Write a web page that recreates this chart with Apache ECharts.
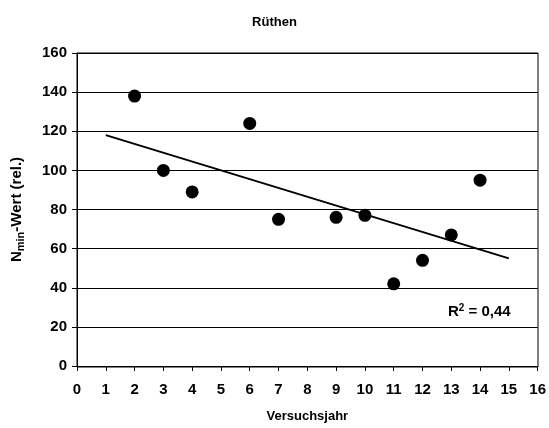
<!DOCTYPE html>
<html>
<head>
<meta charset="utf-8">
<script src="https://cdn.jsdelivr.net/npm/echarts@6/dist/echarts.min.js"></script>
<style>
  html, body { margin: 0; padding: 0; background: #fff; }
  #chart { width: 549px; height: 428px; }
</style>
</head>
<body>
<div id="chart"></div>
<script>
const years = [2, 3, 4, 6, 7, 9, 10, 11, 12, 13, 14]
const nminValues = [138, 100, 89, 124, 75, 76, 77, 42, 54, 67, 95]
// lineare Trendlinie (Endpunkte)
const trendX = [1, 15]
const trendY = [118, 55]
const rSquared = '0,44'

const chart = echarts.init(document.getElementById('chart'))
const font = 'Liberation Sans, Arial, sans-serif'

chart.setOption({
  animation: false,
  title: {
    text: 'Rüthen',
    left: 'center',
    top: 11,
    textStyle: { fontFamily: font, fontSize: 13, fontWeight: 'bold', color: '#000' }
  },
  grid: { left: 77, right: 11, top: 53, bottom: 61 },
  xAxis: {
    type: 'value',
    min: 0, max: 16, interval: 1,
    name: 'Versuchsjahr',
    nameLocation: 'middle',
    nameGap: 44,
    nameTextStyle: { fontFamily: font, fontSize: 13, fontWeight: 'bold', color: '#000' },
    axisLine: { lineStyle: { color: '#000', width: 1 } },
    axisTick: { show: true, length: 5, lineStyle: { color: '#000' } },
    axisLabel: { fontFamily: font, fontSize: 15, fontWeight: 'bold', color: '#000', margin: 16 },
    splitLine: { show: false }
  },
  yAxis: {
    type: 'value',
    min: 0, max: 160, interval: 20,
    name: 'N{sub|min}-Wert (rel.)',
    nameLocation: 'middle',
    nameGap: 51,
    nameRotate: 90,
    nameTextStyle: {
      fontFamily: font, fontSize: 15, fontWeight: 'bold', color: '#000',
      rich: { sub: { fontFamily: font, fontSize: 11, fontWeight: 'bold', color: '#000', verticalAlign: 'bottom', padding: [7, 0, 0, 0] } }
    },
    axisLine: { show: true, lineStyle: { color: '#000', width: 1 } },
    axisTick: { show: true, length: 5, lineStyle: { color: '#000' } },
    axisLabel: { fontFamily: font, fontSize: 15, fontWeight: 'bold', color: '#000', margin: 10 },
    splitLine: { show: true, lineStyle: { color: '#000', width: 1 } }
  },
  graphic: [
    {
      type: 'rect',
      shape: { x: 77, y: 53, width: 461, height: 314 },
      style: { fill: 'none', stroke: '#000', lineWidth: 1 },
      silent: true
    },
    {
      type: 'text',
      left: 448, top: 303,
      style: {
        text: 'R{sup|2} = ' + rSquared,
        fontFamily: font, fontSize: 15, fontWeight: 'bold', fill: '#000',
        rich: { sup: { fontFamily: font, fontSize: 10, fontWeight: 'bold', fill: '#000', verticalAlign: 'top', padding: [0, 0, 7, 0] } }
      }
    }
  ],
  series: [
    {
      type: 'line',
      data: trendX.map((x, i) => [x, trendY[i]]),
      symbol: 'none',
      lineStyle: { color: '#000', width: 2 },
      z: 2
    },
    {
      type: 'scatter',
      data: years.map((x, i) => [x, nminValues[i]]),
      symbol: 'circle',
      symbolSize: 13,
      itemStyle: { color: '#000', opacity: 1 },
      z: 3
    }
  ]
})
</script>
</body>
</html>
